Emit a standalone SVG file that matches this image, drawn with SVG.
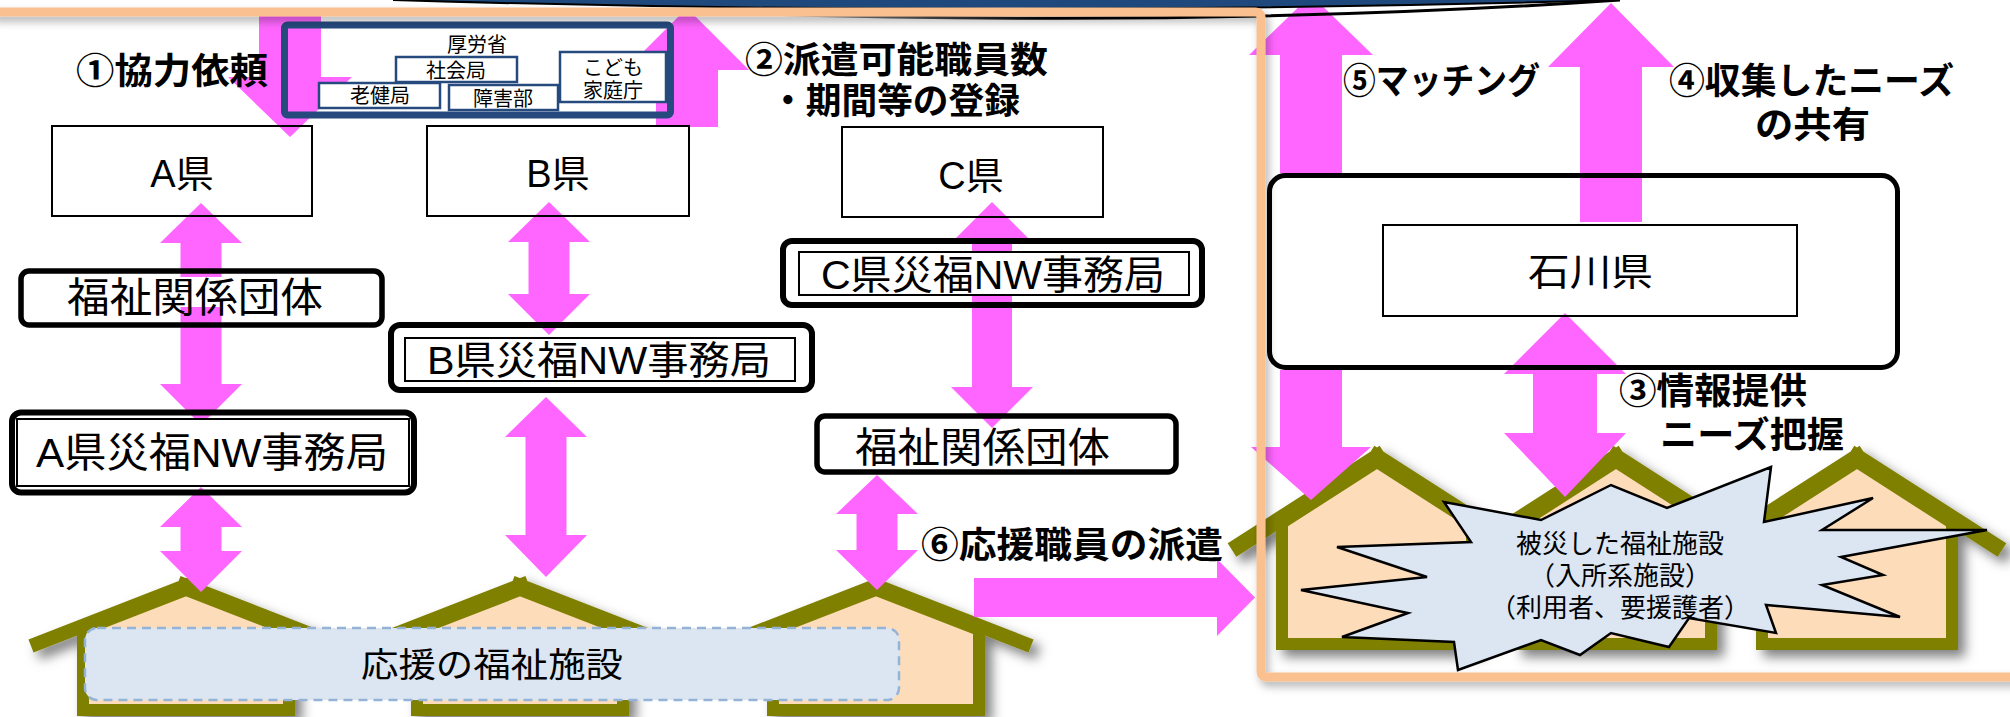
<svg xmlns="http://www.w3.org/2000/svg" width="2010" height="717" viewBox="0 0 2010 717">
<defs>
<style>
.arrow{fill:#FF66FF}
.thin{fill:none;stroke:#000;stroke-width:2}
.thick{fill:none;stroke:#000;stroke-width:6}
.inner{fill:#fff;stroke:#000;stroke-width:2}
.t{font-family:"Liberation Sans","Noto Sans CJK JP",sans-serif;fill:#000}
.lbl{font-family:"Liberation Sans","Noto Sans CJK JP",sans-serif;font-weight:700;font-size:36px;fill:#000}
.mhlw{fill:#fff;stroke:#264A7E;stroke-width:2.5}
.s{font-family:"Liberation Sans","Noto Sans CJK JP",sans-serif;font-size:20px;text-anchor:middle;fill:#000}
.wall{fill:#FDDCB9;stroke:#808000;stroke-width:12;stroke-linejoin:miter}
.roofR{stroke:#808000;stroke-width:16;fill:none}
.roofL{stroke:#808000;stroke-width:14;fill:none}
</style>
<filter id="sh" x="-20%" y="-20%" width="150%" height="150%">
<feDropShadow dx="7" dy="7" stdDeviation="6" flood-color="#000" flood-opacity="0.5"/>
</filter>
<filter id="osh" x="-5%" y="-5%" width="110%" height="110%">
<feDropShadow dx="3" dy="5" stdDeviation="4" flood-color="#000" flood-opacity="0.3"/>
</filter>
<linearGradient id="fade" gradientUnits="userSpaceOnUse" x1="650" y1="0" x2="1050" y2="0">
<stop offset="0" stop-color="#000" stop-opacity="0"/>
<stop offset="1" stop-color="#000" stop-opacity="1"/>
</linearGradient>
</defs>
<rect width="2010" height="717" fill="#fff"/>

<!-- houses -->
<g id="house-r1" filter="url(#sh)">
<polygon class="wall" points="1377,462 1472,523 1472,644 1282,644 1282,523"/>
<path class="roofR" d="M1232,550 L1384,452.5 M1370,452.5 L1522,550"/>
</g>
<g id="house-r2" filter="url(#sh)">
<polygon class="wall" points="1616,462 1711,523 1711,644 1521,644 1521,523"/>
<path class="roofR" d="M1471,550 L1623,452.5 M1609,452.5 L1761,550"/>
</g>
<g id="house-r3" filter="url(#sh)">
<polygon class="wall" points="1857,462 1952,523 1952,644 1762,644 1762,523"/>
<path class="roofR" d="M1712,550 L1864,452.5 M1850,452.5 L2002,550"/>
</g>
<g id="burst">
<polygon points="1771,467 1764,522 1873,498 1822,530 1987,530 1841,557 1883,575 1822,585 1900,617 1766,605 1776,633 1689,618 1669,647 1611,633 1580,655 1541,640 1458,670 1454,642 1342,637 1408,613 1301,590 1427,577 1337,547 1471,542 1444,502 1541,520 1611,485 1667,508" fill="#DCE6F2" stroke="#000" stroke-width="2.5"/>
<text class="t" font-size="26" text-anchor="middle"><tspan x="1620" y="553">被災した福祉施設</tspan><tspan x="1620" y="585">（入所系施設）</tspan><tspan x="1620" y="617">（利用者、要援護者）</tspan></text>
</g>
<g id="house-l1" filter="url(#sh)">
<polygon class="wall" points="186,590 289,630 289,710 83,710 83,630"/>
<path class="roofL" d="M31,646 L194,582.4 M178,582.4 L341,646"/>
</g>
<g id="house-l2" filter="url(#sh)">
<polygon class="wall" points="520,590 623,630 623,710 417,710 417,630"/>
<path class="roofL" d="M365,646 L528,582.4 M512,582.4 L675,646"/>
</g>
<g id="house-l3" filter="url(#sh)">
<polygon class="wall" points="876,590 979,630 979,710 773,710 773,630"/>
<path class="roofL" d="M721,646 L884,582.4 M868,582.4 L1031,646"/>
</g>
<g id="support-facilities">
<rect x="85" y="628" width="814" height="72" rx="12" fill="#DCE6F2" stroke="#95B3D7" stroke-width="2.5" stroke-dasharray="9,6"/>
<text class="t" x="361" y="677" font-size="34" textLength="262" lengthAdjust="spacingAndGlyphs">応援の福祉施設</text>
</g>

<!-- connectors -->
<g id="connectors">
<polygon class="arrow" points="259,10 321,10 321,77 352,77 290,137 228,77 259,77"/>
<polygon class="arrow" points="687,8 749,70 718,70 718,127 656,127 656,70 625,70"/>
<polygon class="arrow" points="201,203 242,243 221.5,243 221.5,384 242,384 201,425 160,384 180.5,384 180.5,243 160,243"/>
<polygon class="arrow" points="201,487 242,527 221.5,527 221.5,551 242,551 201,592 160,551 180.5,551 180.5,527 160,527"/>
<polygon class="arrow" points="549,202 590,242 569.5,242 569.5,294 590,294 549,335 508,294 528.5,294 528.5,242 508,242"/>
<polygon class="arrow" points="546,397 587,437 566.5,437 566.5,535 587,535 546,577 505,535 525.5,535 525.5,437 505,437"/>
<polygon class="arrow" points="992,202 1033,243 1012,243 1012,387 1033,387 992,428 951,387 972,387 972,243 951,243"/>
<polygon class="arrow" points="877,475 918,514 897.5,514 897.5,550 918,550 877,590 836,550 856.5,550 856.5,514 836,514"/>
<polygon class="arrow" points="1311,-5 1373,55 1342,55 1342,173 1280,173 1280,55 1249,55"/>
<polygon class="arrow" points="1280,370 1342,370 1342,447 1371,447 1311,500 1251,447 1280,447"/>
<polygon class="arrow" points="1611,3 1674,67 1642,67 1642,222 1580,222 1580,67 1548,67"/>
<polygon class="arrow" points="1565,313 1626,374 1597,374 1597,433 1626,433 1565,497 1504,433 1533,433 1533,374 1504,374"/>
<polygon class="arrow" points="974,578 1217,578 1217,559 1255,597.5 1217,636 1217,617 974,617"/>
</g>

<!-- nodes -->
<g id="mhlw">
<rect x="284.5" y="25" width="386" height="90" rx="3" fill="none" stroke="#264A7E" stroke-width="7"/>
<text class="s" x="477" y="52">厚労省</text>
<rect class="mhlw" x="396" y="57" width="121" height="25"/>
<text class="s" x="456" y="78">社会局</text>
<rect class="mhlw" x="319" y="83" width="121" height="25"/>
<text class="s" x="380" y="103">老健局</text>
<rect class="mhlw" x="449" y="85" width="109" height="25"/>
<text class="s" x="503" y="106">障害部</text>
<rect class="mhlw" x="560" y="52" width="106" height="50"/>
<text class="s" x="613" y="75">こども</text>
<text class="s" x="613" y="98">家庭庁</text>
</g>
<g id="pref-a">
<rect class="thin" x="52" y="126" width="260" height="90"/>
<text class="t" x="182" y="187" font-size="38" text-anchor="middle">A県</text>
</g>
<g id="pref-b">
<rect class="thin" x="427" y="126" width="262" height="90"/>
<text class="t" x="558" y="187" font-size="38" text-anchor="middle">B県</text>
</g>
<g id="pref-c">
<rect class="thin" x="842" y="127" width="261" height="90"/>
<text class="t" x="971" y="189" font-size="38" text-anchor="middle">C県</text>
</g>
<g id="welfare-a">
<rect x="21" y="271" width="361" height="54" rx="8" fill="none" stroke="#000" stroke-width="5.5"/>
<rect x="60" y="277" width="270" height="30" fill="#fff"/>
<text class="t" x="67" y="312" font-size="41" textLength="256" lengthAdjust="spacingAndGlyphs">福祉関係団体</text>
</g>
<g id="nw-a">
<rect class="thick" x="12" y="412.5" width="402" height="80" rx="9"/>
<rect class="inner" x="17" y="419" width="392" height="67"/>
<text class="t" x="36" y="467" font-size="41" textLength="352" lengthAdjust="spacingAndGlyphs">A県災福NW事務局</text>
</g>
<g id="nw-b">
<rect class="thick" x="391" y="325" width="421" height="65" rx="9"/>
<rect class="inner" x="405" y="338" width="390" height="43"/>
<text class="t" x="427" y="374" font-size="39" textLength="344" lengthAdjust="spacingAndGlyphs">B県災福NW事務局</text>
</g>
<g id="nw-c">
<rect class="thick" x="783" y="241" width="419" height="64" rx="9"/>
<rect class="inner" x="799" y="252" width="390" height="43"/>
<text class="t" x="821" y="289" font-size="40" textLength="344" lengthAdjust="spacingAndGlyphs">C県災福NW事務局</text>
</g>
<g id="welfare-c">
<rect x="817" y="416" width="359" height="56" rx="8" fill="none" stroke="#000" stroke-width="5.5"/>
<text class="t" x="855" y="462" font-size="41" textLength="255" lengthAdjust="spacingAndGlyphs">福祉関係団体</text>
</g>
<g id="ishikawa">
<rect x="1269.5" y="175.5" width="628" height="192" rx="16" fill="none" stroke="#000" stroke-width="5"/>
<rect class="thin" x="1383" y="225" width="414" height="91"/>
<text class="t" x="1528" y="285" font-size="38" textLength="125" lengthAdjust="spacingAndGlyphs">石川県</text>
</g>

<!-- connector labels -->
<g id="labels">
<text class="lbl" x="76" y="84" textLength="192" lengthAdjust="spacingAndGlyphs">①協力依頼</text>
<text class="lbl" x="745" y="73" textLength="303" lengthAdjust="spacingAndGlyphs">②派遣可能職員数</text>
<text class="lbl" x="770" y="114" textLength="250" lengthAdjust="spacingAndGlyphs">・期間等の登録</text>
<text class="lbl" x="1343" y="94" textLength="197" lengthAdjust="spacingAndGlyphs">⑤マッチング</text>
<text class="lbl" x="1669" y="94" textLength="285" lengthAdjust="spacingAndGlyphs">④収集したニーズ</text>
<text class="lbl" x="1755" y="138" textLength="115" lengthAdjust="spacingAndGlyphs">の共有</text>
<text class="lbl" x="1619" y="404" textLength="188" lengthAdjust="spacingAndGlyphs">③情報提供</text>
<text class="lbl" x="1660" y="448" textLength="184" lengthAdjust="spacingAndGlyphs">ニーズ把握</text>
<text class="lbl" x="921" y="558" textLength="302" lengthAdjust="spacingAndGlyphs">⑥応援職員の派遣</text>
</g>

<!-- frame decoration -->
<g id="frame">
<path d="M393,0 Q1000,18 1620,0 Z" fill="#1F497D"/>
<path d="M393,0 Q1000,18 1620,0" fill="none" stroke="#000" stroke-width="2"/>
<path d="M600,8 Q1150,32 1620,0" fill="none" stroke="url(#fade)" stroke-width="3"/>
<path d="M-10,12 H1255 Q1261,12 1261,18 V671 Q1261,677 1267,677 H2020" fill="none" stroke="#FAC090" stroke-width="9" filter="url(#osh)"/>
</g>
</svg>
